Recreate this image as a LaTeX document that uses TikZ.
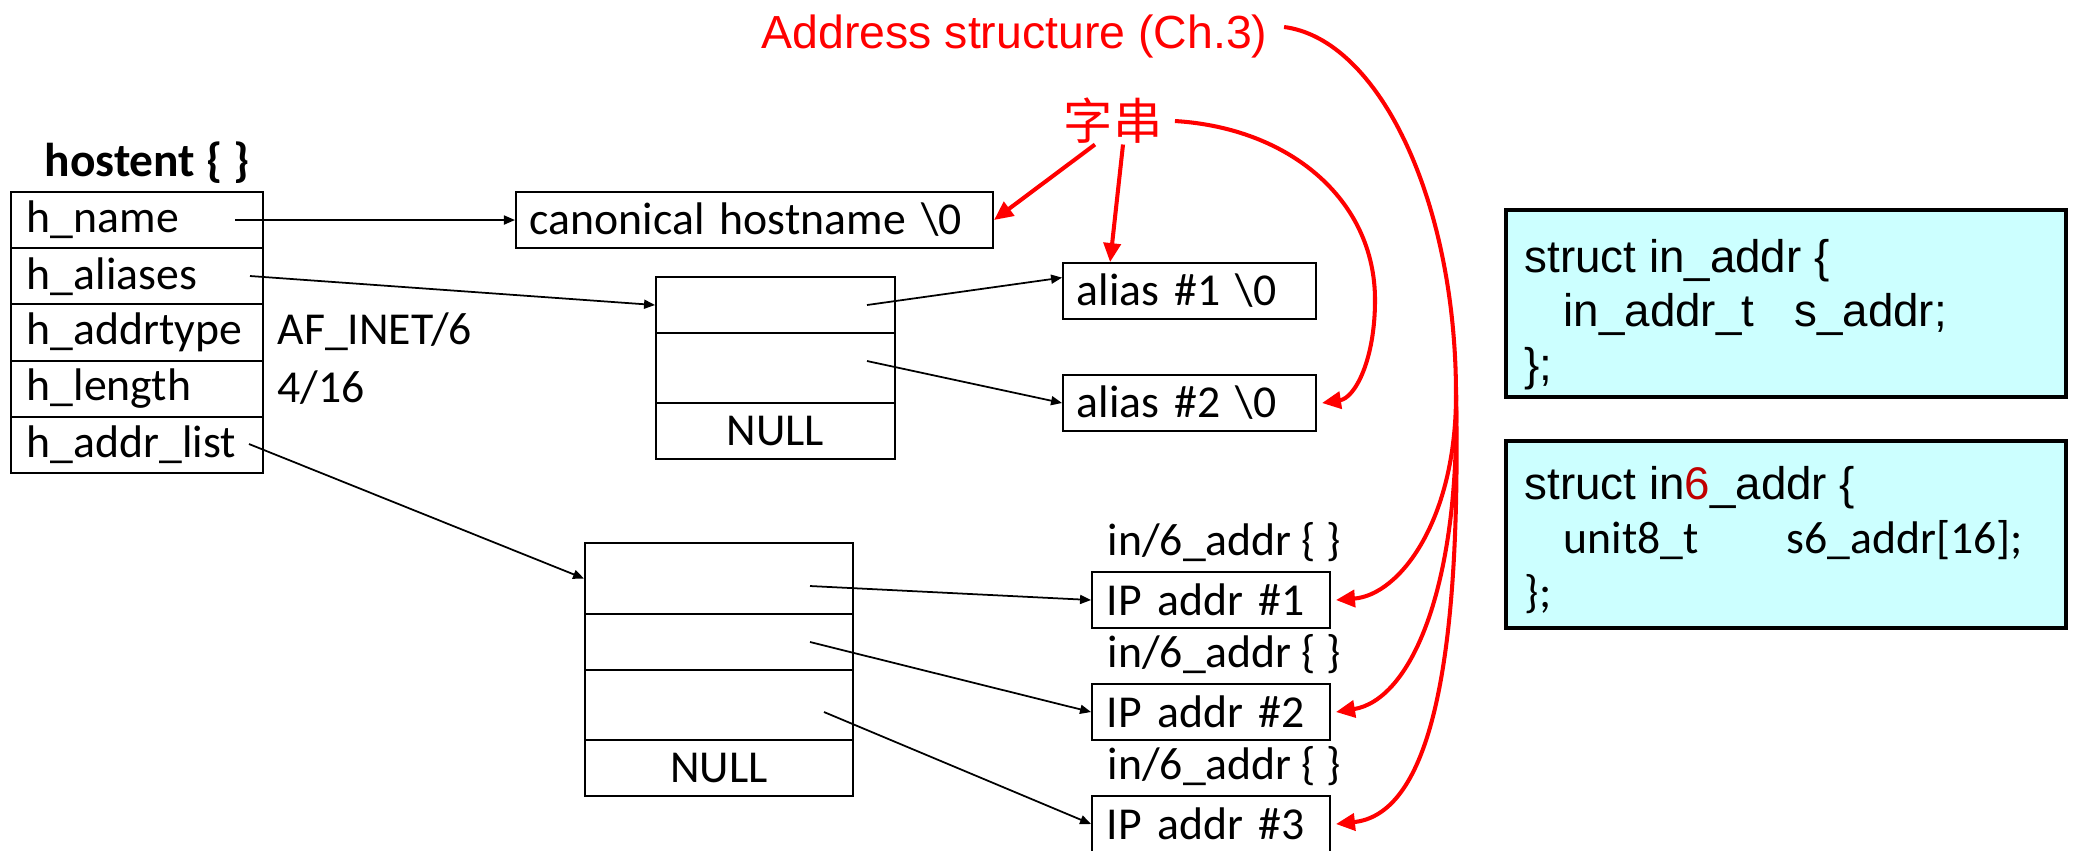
\documentclass[tikz,border=0pt]{standalone}
\usepackage{fontspec}
\setmainfont{Carlito}
\newfontfamily\arialfont{Liberation Sans}
\newfontfamily\cjkfont{Noto Sans CJK SC}
\usetikzlibrary{arrows.meta}
\definecolor{structfill}{HTML}{CCFFFF}
\definecolor{darkred}{HTML}{C00000}

\tikzset{
  cell/.style={draw, line width=0.5pt, inner sep=0pt, minimum height=0.56cm,
    font=\fontsize{13pt}{15pt}\selectfont},
  field/.style={cell, minimum width=2.52cm, text width=2.2cm, align=left},
  strbox/.style={cell, align=left},
  slot/.style={cell, minimum width=2.39cm},
  listslot/.style={cell, minimum width=2.68cm},
  plain/.style={inner sep=0pt, font=\fontsize{13pt}{15pt}\selectfont},
  structbox/.style={draw, line width=1.1pt, fill=structfill, minimum width=5.6cm, minimum height=1.87cm},
  structtext/.style={inner sep=0pt, align=left, font=\arialfont\fontsize{13pt}{15.4pt}\selectfont},
  ptr/.style={line width=0.5pt, -{Triangle[length=0.11cm,width=0.09cm]}},
  redarrow/.style={draw=red, line width=1.15pt, -{Triangle[length=0.19cm,width=0.17cm]}}
}

\begin{document}
\begin{tikzpicture}[x=0.01cm, y=-0.01cm]
  \useasboundingbox (0,0) rectangle (2073,850);

  % hostent table
  \node[plain, font=\bfseries\fontsize{13.5pt}{16pt}\selectfont] (title) at (147,163) {hostent \{ \}};
  \node[field] (hname) at (137,220.1) {h\_name};
  \node[field] (haliases) at (137,276.3) {h\_aliases};
  \node[field] (htype) at (137,332.5) {h\_addrtype};
  \node[field] (hlength) at (137,388.7) {h\_length};
  \node[field] (hlist) at (137,444.9) {h\_addr\_list};
  \node[plain, anchor=west] (afinet) at (277,332) {AF\_INET/6};
  \node[plain, anchor=west] (len) at (277,388) {4/16};

  % strings
  \node[strbox, minimum width=4.77cm, text width=4.49cm] (canon) at (754.5,220) {canonical hostname \textbackslash0};
  \node[slot, minimum height=0.56cm] (al1) at (775.5,305) {};
  \node[slot, minimum height=0.70cm] (al2) at (775.5,368) {};
  \node[slot, minimum height=0.56cm] (al3) at (775.5,431) {NULL};
  \node[strbox, minimum width=2.53cm, text width=2.25cm] (alias1) at (1189.5,291) {alias \#1 \textbackslash0};
  \node[strbox, minimum width=2.53cm, text width=2.25cm] (alias2) at (1189.5,403) {alias \#2 \textbackslash0};

  % address list
  \node[listslot, minimum height=0.71cm] (ad1) at (719,578.5) {};
  \node[listslot, minimum height=0.56cm] (ad2) at (719,642) {};
  \node[listslot, minimum height=0.70cm] (ad3) at (719,705) {};
  \node[listslot, minimum height=0.56cm] (ad4) at (719,768) {NULL};
  \node[strbox, minimum width=2.38cm, text width=2.08cm] (ip1) at (1211,600) {IP addr \#1};
  \node[strbox, minimum width=2.38cm, text width=2.08cm] (ip2) at (1211,712) {IP addr \#2};
  \node[strbox, minimum width=2.38cm, text width=2.08cm] (ip3) at (1211,824) {IP addr \#3};
  \node[plain, anchor=base west] (lab1) at (1107,555) {in/6\_addr \{ \}};
  \node[plain, anchor=base west] (lab2) at (1107,667) {in/6\_addr \{ \}};
  \node[plain, anchor=base west] (lab3) at (1107,779) {in/6\_addr \{ \}};

  % pointers
  \coordinate (pname) at (235,220);
  \coordinate (palias) at (250,276);
  \coordinate (plist) at (249,444);
  \coordinate (pal1) at (867,305);
  \coordinate (pal2) at (867,361);
  \coordinate (pad1) at (810,586);
  \coordinate (pad2) at (810,642);
  \coordinate (pad3) at (824,712);
  \draw[ptr] (pname) -- (canon.west);
  \draw[ptr] (palias) -- (al1.west);
  \draw[ptr] (plist) -- (ad1.west);
  \draw[ptr] (pal1) -- (alias1.174);
  \draw[ptr] (pal2) -- (alias2.west);
  \draw[ptr] (pad1) -- (ip1.west);
  \draw[ptr] (pad2) -- (ip2.west);
  \draw[ptr] (pad3) -- (ip3.west);

  % red notes
  \node[plain, anchor=base west, text=red, font=\arialfont\fontsize{13.2pt}{15pt}\selectfont] (addr) at (761,48) {Address structure (Ch.3)};
  \node[plain, text=red, font=\cjkfont\fontsize{14pt}{16pt}\selectfont] (str) at (1113,121) {字串};
  \draw[redarrow] ([xshift=-0.18cm]str.south) -- (canon.east);
  \draw[redarrow] ([xshift=0.1cm]str.south) -- (alias1.160);
  \draw[redarrow] ([xshift=0.12cm]str.east) .. controls (1290,128) and (1375,200) .. (1375,300)
    .. controls (1375,360) and (1355,398) .. ([xshift=0.05cm]alias2.east);
  \coordinate (fork) at (1456,395);
  \draw[redarrow] ([xshift=0.16cm]addr.east) ++(0,-9) .. controls (1378,39) and (1456,199) .. (fork)
    .. controls (1456,520) and (1400,595) .. ([xshift=0.05cm]ip1.east);
  \draw[redarrow] (fork) .. controls (1460,590) and (1410,700) .. ([xshift=0.05cm]ip2.east);
  \draw[redarrow] (fork) .. controls (1462,700) and (1420,815) .. ([xshift=0.05cm]ip3.east);

  % structs
  \node[structbox] (in4) at (1786,303.5) {};
  \node[structtext, anchor=west] (in4txt) at (1524,315) {struct in\_addr \{\\
    \hspace*{0.39cm}in\_addr\_t\hspace{0.4cm}s\_addr;\\
    \};};
  \node[structbox] (in6) at (1786,534.5) {};
  \node[structtext, anchor=west] (in6txt) at (1524,540) {struct in{\color{darkred}6}\_addr \{\\
    \hspace*{0.39cm}{\rmfamily unit8\_t\hspace{0.88cm}s6\_addr[16];}\\
    {\rmfamily \};}};
\end{tikzpicture}
\end{document}
